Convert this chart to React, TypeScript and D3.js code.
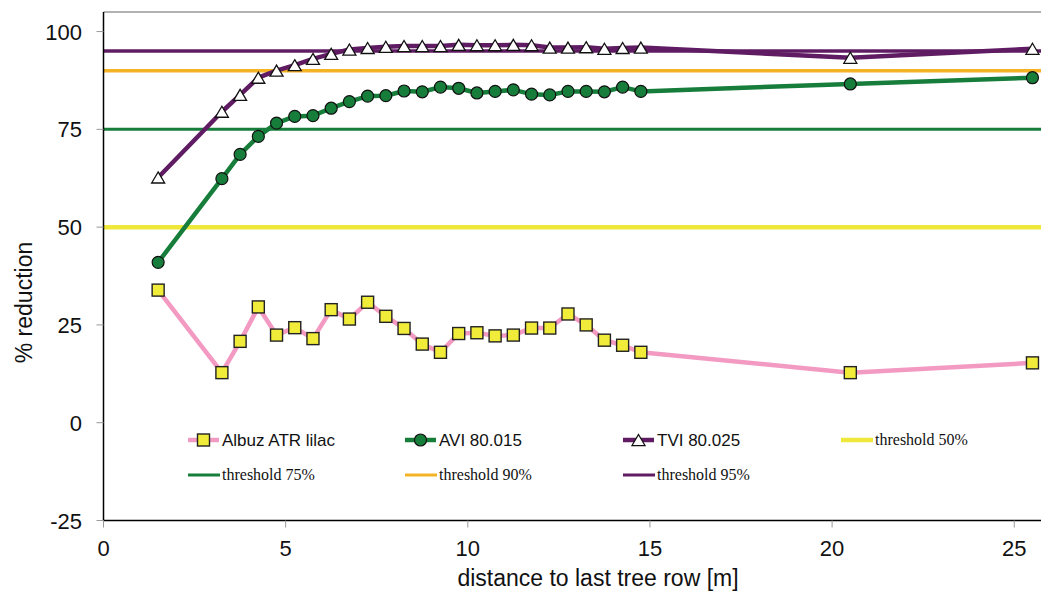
import React from "react";
import * as d3 from "d3";

const distances = [1.5, 3.25, 3.75, 4.25, 4.75, 5.25, 5.75, 6.25, 6.75, 7.25, 7.75, 8.25, 8.75, 9.25, 9.75, 10.25, 10.75, 11.25, 11.75, 12.25, 12.75, 13.25, 13.75, 14.25, 14.75, 20.5, 25.5];
const albuzValues = [33.9, 12.8, 20.8, 29.6, 22.4, 24.3, 21.5, 28.9, 26.5, 30.8, 27.2, 24.1, 20.1, 18.0, 22.8, 23.0, 22.2, 22.4, 24.2, 24.2, 27.8, 25.0, 21.1, 19.8, 18.0, 12.8, 15.3];
const aviValues = [41.0, 62.4, 68.6, 73.2, 76.6, 78.3, 78.5, 80.4, 82.1, 83.5, 83.6, 84.8, 84.6, 85.8, 85.5, 84.3, 84.7, 85.1, 84.0, 83.8, 84.7, 84.7, 84.6, 85.8, 84.7, 86.6, 88.2];
const tviValues = [62.7, 79.5, 83.8, 88.2, 90.0, 91.4, 93.0, 94.3, 95.4, 95.8, 96.1, 96.3, 96.3, 96.3, 96.6, 96.5, 96.5, 96.6, 96.5, 95.9, 95.9, 96.0, 95.6, 95.8, 95.9, 93.3, 95.6];

const thresholds = [50, 75, 90, 95];
const thresholdLabels = ["threshold 50%", "threshold 75%", "threshold 90%", "threshold 95%"];
const thresholdColors = ["#efe83a", "#177d3b", "#f4b324", "#5f1c63"];
const thresholdWidths = [4.5, 3, 3.5, 3.5];

const xTicks = [0, 5, 10, 15, 20, 25];
const yTicks = [-25, 0, 25, 50, 75, 100];

const seriesNames = ["Albuz ATR lilac", "AVI 80.015", "TVI 80.025"];

const W = 1041;
const H = 592;

export default function App() {
  const x = d3.scaleLinear().domain([0, 26]).range([103.5, 103.5 + 26 * 36.43]);
  const y = d3.scaleLinear().domain([-25, 105]).range([520.5, 12]);
  const left = x(0);
  const right = W;
  const top = y(105);
  const bottom = y(-25);

  const line = d3
    .line<[number, number]>()
    .x((d) => x(d[0]))
    .y((d) => y(d[1]));

  const albuz = distances.map((d, i) => [d, albuzValues[i]] as [number, number]);
  const avi = distances.map((d, i) => [d, aviValues[i]] as [number, number]);
  const tvi = distances.map((d, i) => [d, tviValues[i]] as [number, number]);

  const pink = "#f39ac2";
  const green = "#177d3b";
  const purple = "#5f1c63";
  const sqFill = "#f1ec3a";

  const tri = (cx: number, cy: number, s = 13) => {
    const h = s * 0.85;
    return `M${cx},${cy - h / 2}L${cx + s / 2},${cy + h / 2}L${cx - s / 2},${cy + h / 2}Z`;
  };

  const sansFont = "Arial, 'Liberation Sans', sans-serif";
  const serifFont = "'Times New Roman', 'Liberation Serif', serif";

  const legendCols = [188, 405, 623, 841];
  const legendRows = [440, 475];

  const square = (cx: number, cy: number, key: string | number) => (
    <rect key={key} x={cx - 6} y={cy - 6} width={12} height={12} fill={sqFill} stroke="#222" strokeWidth={1.4} />
  );
  const circle = (cx: number, cy: number, key: string | number) => (
    <circle key={key} cx={cx} cy={cy} r={6} fill={green} stroke="#111" strokeWidth={1.2} />
  );
  const triangle = (cx: number, cy: number, key: string | number) => (
    <path key={key} d={tri(cx, cy)} fill="#fff" stroke="#111" strokeWidth={1.3} />
  );

  return (
    <svg width={W} height={H} style={{ position: "absolute", left: 0, top: 0, background: "#fff" }}>
      <defs>
        <clipPath id="plot">
          <rect x={left} y={top} width={right - left} height={bottom - top} />
        </clipPath>
      </defs>
      <line x1={left} x2={right} y1={top} y2={top} stroke="#999" strokeWidth={1.5} />

      <g clipPath="url(#plot)">
        {thresholds.map((t, i) => (
          <line key={t} x1={left} x2={right} y1={y(t)} y2={y(t)} stroke={thresholdColors[i]} strokeWidth={thresholdWidths[i]} />
        ))}
      </g>

      <path d={line(albuz) || ""} fill="none" stroke={pink} strokeWidth={4.5} strokeLinejoin="round" />
      <path d={line(avi) || ""} fill="none" stroke={green} strokeWidth={4.5} strokeLinejoin="round" />
      <path d={line(tvi) || ""} fill="none" stroke={purple} strokeWidth={4.5} strokeLinejoin="round" />

      {albuz.map((d, i) => square(x(d[0]), y(d[1]), "s" + i))}
      {avi.map((d, i) => circle(x(d[0]), y(d[1]), "c" + i))}
      {tvi.map((d, i) => triangle(x(d[0]), y(d[1]), "t" + i))}

      <line x1={left} x2={left} y1={top} y2={bottom} stroke="#000" strokeWidth={1.5} />
      <line x1={left} x2={right} y1={bottom} y2={bottom} stroke="#000" strokeWidth={1.5} />
      {yTicks.map((t) => (
        <g key={"yt" + t}>
          <line x1={left - 7} x2={left} y1={y(t)} y2={y(t)} stroke="#999" strokeWidth={1} />
          <text x={82} y={y(t) + 8} textAnchor="end" fontFamily={sansFont} fontSize={22} fill="#111">
            {t}
          </text>
        </g>
      ))}
      {xTicks.map((t) => (
        <g key={"xt" + t}>
          <line x1={x(t)} x2={x(t)} y1={bottom} y2={bottom + 7} stroke="#999" strokeWidth={1} />
          <text x={x(t)} y={556} textAnchor="middle" fontFamily={sansFont} fontSize={22} fill="#111">
            {t}
          </text>
        </g>
      ))}
      <text x={598} y={586} textAnchor="middle" fontFamily={sansFont} fontSize={23} fill="#111">
        distance to last tree row [m]
      </text>
      <text
        transform={`translate(32,${302.5}) rotate(-90)`}
        textAnchor="middle"
        fontFamily={sansFont}
        fontSize={23}
        fill="#111"
      >
        % reduction
      </text>

      <g>
        <line x1={legendCols[0]} x2={legendCols[0] + 31} y1={legendRows[0]} y2={legendRows[0]} stroke={pink} strokeWidth={4.5} />
        {square(legendCols[0] + 15.5, legendRows[0], "ls")}
        <text x={legendCols[0] + 34} y={legendRows[0] + 6} fontFamily={sansFont} fontSize={17} fill="#111">
          {seriesNames[0]}
        </text>

        <line x1={legendCols[1]} x2={legendCols[1] + 31} y1={legendRows[0]} y2={legendRows[0]} stroke={green} strokeWidth={4.5} />
        {circle(legendCols[1] + 15.5, legendRows[0], "lc")}
        <text x={legendCols[1] + 34} y={legendRows[0] + 6} fontFamily={sansFont} fontSize={17} fill="#111">
          {seriesNames[1]}
        </text>

        <line x1={legendCols[2]} x2={legendCols[2] + 31} y1={legendRows[0]} y2={legendRows[0]} stroke={purple} strokeWidth={4.5} />
        {triangle(legendCols[2] + 15.5, legendRows[0], "lt")}
        <text x={legendCols[2] + 34} y={legendRows[0] + 6} fontFamily={sansFont} fontSize={17} fill="#111">
          {seriesNames[2]}
        </text>

        {thresholds.map((t, i) => {
          const idx = i === 0 ? 3 : i - 1;
          const row = i === 0 ? 0 : 1;
          const cx = legendCols[idx];
          const cy = legendRows[row];
          return (
            <g key={"lg" + t}>
              <line x1={cx} x2={cx + 32} y1={cy} y2={cy} stroke={thresholdColors[i]} strokeWidth={i === 0 ? 4.5 : 3} />
              <text x={cx + 34} y={cy + 5} fontFamily={serifFont} fontSize={16} fill="#111">
                {thresholdLabels[i]}
              </text>
            </g>
          );
        })}
      </g>
    </svg>
  );
}
